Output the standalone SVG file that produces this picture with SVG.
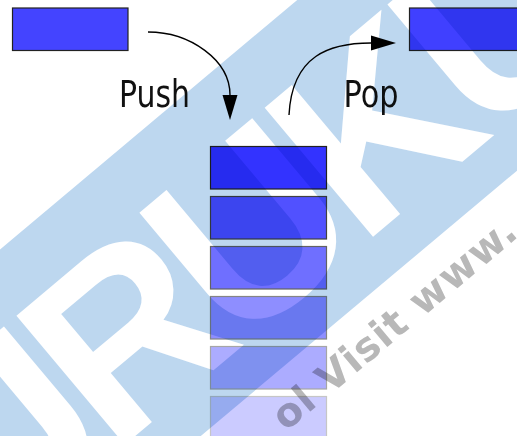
<svg xmlns="http://www.w3.org/2000/svg" width="517" height="436" viewBox="0 0 517 436">
  <style>
    .item { stroke: #222; stroke-width: 1.2; }
    .link { fill: none; stroke: #000; stroke-width: 1.4; }
    .label { font-family: "DejaVu Sans", "Liberation Sans", sans-serif; font-size: 37px; fill: #111; }
  </style>
  <defs>
    <marker id="arrow" markerUnits="userSpaceOnUse" viewBox="0 0 26 16" markerWidth="26" markerHeight="16" refX="0" refY="8" orient="auto">
      <path d="M0,0.5 L25,8 L0,15.5 z" fill="#000"/>
    </marker>
  </defs>

  <rect width="517" height="436" fill="#fff"/>

  <!-- incoming element -->
  <g id="item-in">
    <rect class="item" x="12.5" y="8" width="115.5" height="42.5" fill="#4444ff"/>
  </g>

  <!-- outgoing element -->
  <g id="item-out">
    <rect class="item" x="409.5" y="8" width="120" height="42.5" fill="#4040ff"/>
  </g>

  <!-- stack, top to bottom, fading out -->
  <g id="stack">
    <g id="stack-0"><rect class="item" x="210.5" y="146.5" width="116" height="42.5" fill="#3333ff" stroke="#111"/></g>
    <g id="stack-1" opacity="0.85"><rect class="item" x="210.5" y="196.5" width="116" height="42.5" fill="#3333ff"/></g>
    <g id="stack-2" opacity="0.7"><rect class="item" x="210.5" y="246.5" width="116" height="42.5" fill="#3333ff"/></g>
    <g id="stack-3" opacity="0.55"><rect class="item" x="210.5" y="296.5" width="116" height="42.5" fill="#3333ff"/></g>
    <g id="stack-4" opacity="0.4"><rect class="item" x="210.5" y="346.5" width="116" height="42.5" fill="#3333ff"/></g>
    <g id="stack-5" opacity="0.25"><rect class="item" x="210.5" y="396.5" width="116" height="42.5" fill="#3333ff"/></g>
  </g>

  <!-- push / pop arrows with labels -->
  <g id="connectors">
    <path id="push" class="link" d="M148,32 C190,32 230,60 230,95" marker-end="url(#arrow)"/>
    <path id="pop" class="link" d="M289,115 C292,55 330,43 371,43" marker-end="url(#arrow)"/>
    <text class="label" x="119" y="107" textLength="71" lengthAdjust="spacingAndGlyphs">Push</text>
    <text class="label" x="343.5" y="107" textLength="55" lengthAdjust="spacingAndGlyphs">Pop</text>
  </g>

  <!-- watermark, multiplied over the drawing -->
  <g id="watermark" style="mix-blend-mode:multiply">
    <g transform="translate(250,225) rotate(-40)">
      <rect x="-700" y="-142" width="1400" height="272" fill="#bdd7ef"/>
      <text x="-591" y="88" font-family="Liberation Sans, Arial, sans-serif" font-weight="bold" font-size="245" letter-spacing="-15" fill="#fff">GURUKUL</text>
    </g>
    <text transform="translate(286,432) rotate(-40)" font-family="DejaVu Sans, sans-serif" font-weight="bold" font-size="40" letter-spacing="1" fill="#b8b8b8">ol Visit www.</text>
  </g>
</svg>
